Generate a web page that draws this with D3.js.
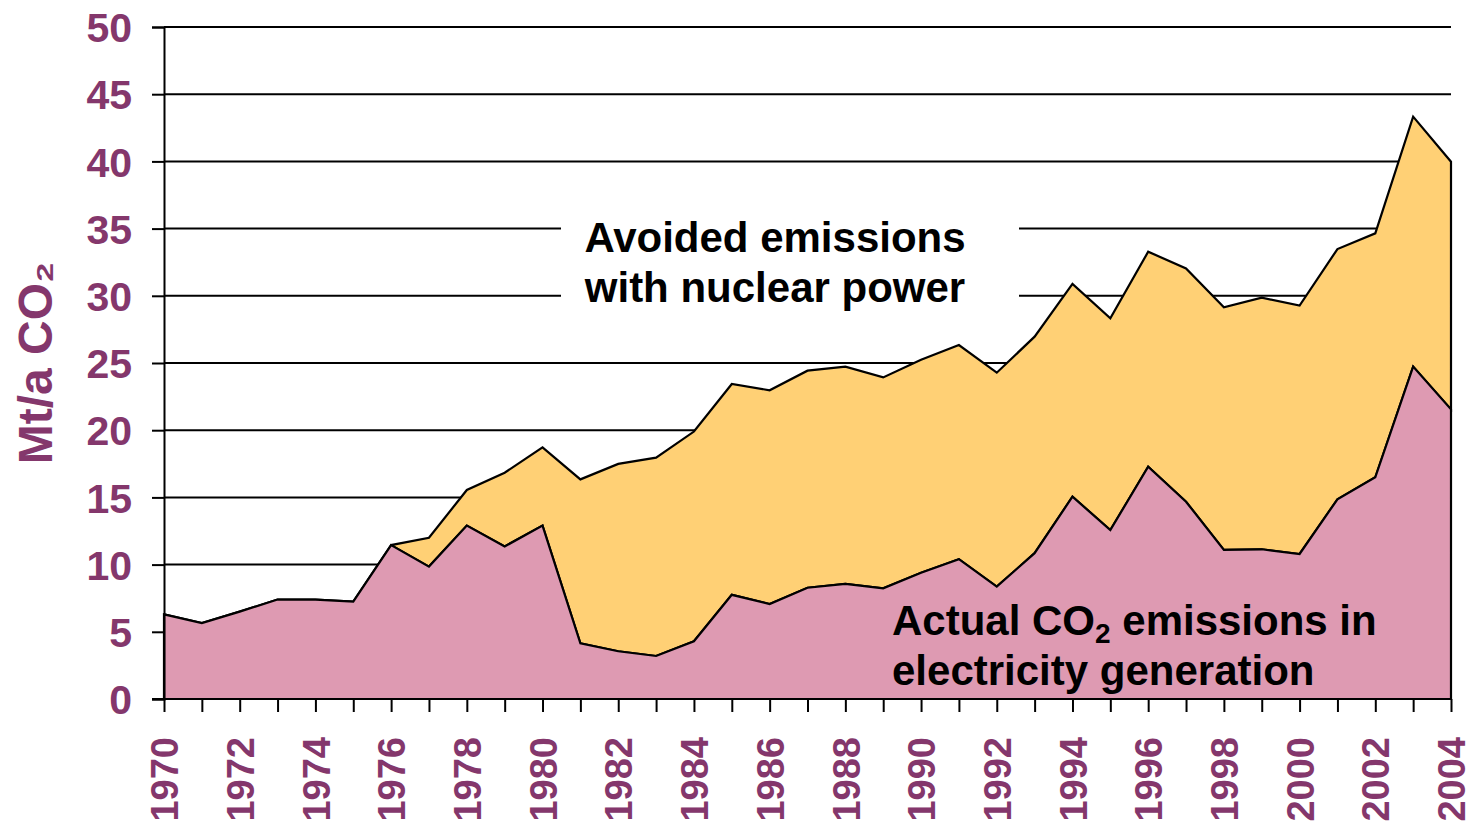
<!DOCTYPE html>
<html>
<head>
<meta charset="utf-8">
<script src="https://cdn.jsdelivr.net/npm/d3@7"></script>
<style>
  body { margin: 0; background: #fff; }
  svg { display: block; font-family: "Liberation Sans", Arial, sans-serif; }
</style>
</head>
<body>
<svg id="chart" width="1473" height="828"></svg>
<script>
// years on the x axis
var years = d3.range(1970, 2005)

// actual CO2 emissions in electricity generation (Mt/a)
var actual = [6.3, 5.65, 6.5, 7.4, 7.4, 7.25, 11.45, 9.85, 12.9, 11.35,
  12.9, 4.15, 3.55, 3.2, 4.3, 7.75, 7.07, 8.28, 8.56, 8.24,
  9.4, 10.4, 8.36, 10.85, 15.05, 12.57, 17.28, 14.68, 11.09, 11.14,
  10.79, 14.86, 16.5, 24.73, 21.55]

// actual + avoided emissions with nuclear power (Mt/a)
var total = [6.3, 5.65, 6.5, 7.4, 7.4, 7.25, 11.45, 12.0, 15.55, 16.84,
  18.72, 16.34, 17.49, 17.96, 19.9, 23.44, 22.97, 24.43, 24.73, 23.93,
  25.25, 26.34, 24.28, 26.96, 30.88, 28.32, 33.28, 32.04, 29.14, 29.86,
  29.27, 33.48, 34.65, 43.33, 39.98]

var yTicks = [0, 5, 10, 15, 20, 25, 30, 35, 40, 45, 50]

var purple = "#84376c"
var pink = "#de9ab2"
var yellow = "#ffd075"

var svg = d3.select('#chart')

var x = d3.scaleLinear().domain([1970, 2004]).range([164, 1451])
var y = d3.scaleLinear().domain([0, 50]).range([699, 27])

// gridlines
svg.append('g')
  .selectAll('line')
  .data(yTicks.filter(function(d){ return d > 0 }))
  .enter()
  .append('line')
  .attr("x1", 164)
  .attr("x2", 1451)
  .attr("y1", function(d){ return y(d) })
  .attr("y2", function(d){ return y(d) })
  .attr("stroke", "#000")
  .attr("stroke-width", 2)

// white box behind the upper label
svg.append('rect')
  .attr("x", 561)
  .attr("y", 210)
  .attr("width", 458)
  .attr("height", 105)
  .attr("fill", "#fff")

var rows = years.map(function(yr, i){
  return { year: yr, actual: actual[i], total: total[i] }
})

var avoidedArea = d3.area()
  .x(function(d){ return x(d.year) })
  .y0(function(d){ return y(d.actual) })
  .y1(function(d){ return y(d.total) })

var actualArea = d3.area()
  .x(function(d){ return x(d.year) })
  .y0(y(0))
  .y1(function(d){ return y(d.actual) })

svg.append('path')
  .datum(rows)
  .attr("d", avoidedArea)
  .attr("fill", yellow)
  .attr("stroke", "#000")
  .attr("stroke-width", 2.2)

svg.append('path')
  .datum(rows)
  .attr("d", actualArea)
  .attr("fill", pink)
  .attr("stroke", "#000")
  .attr("stroke-width", 2.2)

// y axis
var yAxis = svg.append('g')
  .attr("transform", "translate(164,0)")
  .call(d3.axisLeft(y).tickValues(yTicks).tickSize(12).tickPadding(20))

yAxis.select('.domain').attr("stroke", "#000").attr("stroke-width", 2)
yAxis.selectAll('.tick line').attr("stroke", "#000").attr("stroke-width", 2)
yAxis.selectAll('.tick text')
  .attr("fill", purple)
  .attr("font-size", 41)
  .attr("font-weight", "bold")
  .attr("font-family", "Liberation Sans, Arial, sans-serif")
  .attr("dy", "0.36em")

// x axis
var xAxis = svg.append('g')
  .attr("transform", "translate(0,699)")
  .call(d3.axisBottom(x)
    .tickValues(years)
    .tickSize(13)
    .tickFormat(function(d){ return d % 2 == 0 ? d : "" }))

xAxis.select('.domain').attr("stroke", "#000").attr("stroke-width", 2).attr("d", "M152,0H1451")
xAxis.selectAll('.tick line').attr("stroke", "#000").attr("stroke-width", 2)
xAxis.selectAll('.tick text')
  .attr("fill", purple)
  .attr("font-size", 38)
  .attr("font-weight", "bold")
  .attr("font-family", "Liberation Sans, Arial, sans-serif")
  .attr("transform", "rotate(-90)")
  .attr("text-anchor", "end")
  .attr("x", -38)
  .attr("y", 0)
  .attr("dy", "0.36em")

// y axis title
svg.append('text')
  .attr("transform", "translate(52,363) rotate(-90)")
  .attr("text-anchor", "middle")
  .attr("fill", purple)
  .attr("font-size", 48)
  .attr("font-weight", "bold")
  .text("Mt/a CO₂")

// annotations
var upper = svg.append('text')
  .attr("text-anchor", "middle")
  .attr("font-size", 42)
  .attr("font-weight", "bold")
  .attr("fill", "#000")
upper.append('tspan').attr("x", 775).attr("y", 252).text("Avoided emissions")
upper.append('tspan').attr("x", 775).attr("y", 302).text("with nuclear power")

var lower1 = svg.append('text')
  .attr("x", 892)
  .attr("y", 635)
  .attr("font-size", 42)
  .attr("font-weight", "bold")
  .attr("fill", "#000")
lower1.append('tspan').text("Actual CO")
lower1.append('tspan').attr("font-size", 28).attr("dy", 8).text("2")
lower1.append('tspan').attr("dy", -8).text(" emissions in")

svg.append('text')
  .attr("x", 892)
  .attr("y", 685)
  .attr("font-size", 42)
  .attr("font-weight", "bold")
  .attr("fill", "#000")
  .text("electricity generation")
</script>
</body>
</html>
